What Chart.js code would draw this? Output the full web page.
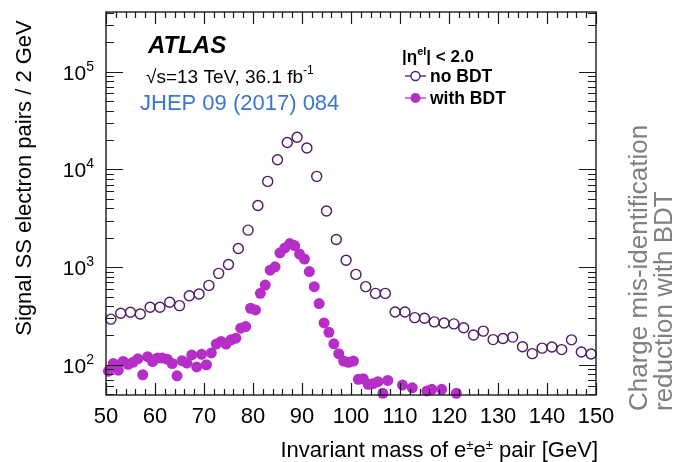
<!DOCTYPE html>
<html>
<head>
<meta charset="utf-8">
<script src="https://cdn.jsdelivr.net/npm/chart.js@4.4.0/dist/chart.umd.min.js"></script>
<style>
  html, body { margin: 0; padding: 0; background: #fff; }
</style>
</head>
<body>
<canvas id="massChart" width="677" height="462"></canvas>
<script>
// Signal SS electron pairs per bin
const binsNoBDT = [51, 53, 55, 57, 59, 61, 63, 65, 67, 69,
                   71, 73, 75, 77, 79, 81, 83, 85, 87, 89,
                   91, 93, 95, 97, 99, 101, 103, 105, 107, 109,
                   111, 113, 115, 117, 119, 121, 123, 125, 127, 129,
                   131, 133, 135, 137, 139, 141, 143, 145, 147, 149];
const noBDT = [293, 337, 345, 331, 388, 388, 436, 403, 509, 530,
               650, 863, 1065, 1550, 2390, 4270, 7550, 12560, 18900, 21400,
               16600, 8500, 3760, 1920, 1175, 842, 631, 538, 538, 347,
               347, 304, 299, 275, 268, 262, 239, 202, 221, 181,
               186, 192, 153, 130, 148, 152, 143, 180, 135, 129];

const binsBDT = [50.5, 51.5, 52.5, 53.5, 54.5, 55.5, 56.5, 57.5, 58.5, 59.5,
                 60.5, 61.5, 62.5, 63.5, 64.5, 65.5, 66.5, 67.5, 68.5, 69.5,
                 70.5, 71.5, 72.5, 73.5, 74.5, 75.5, 76.5, 77.5, 78.5, 79.5,
                 80.5, 81.5, 82.5, 83.5, 84.5, 85.5, 86.5, 87.5, 88.5, 89.5,
                 90.5, 91.5, 92.5, 93.5, 94.5, 95.5, 96.5, 97.5, 98.5, 99.5,
                 100.5, 101.5, 102.5, 103.5, 104.5, 105.5, 106.5, 107.5,
                 110.5, 112.5, 115.5, 116.5, 118.5, 121.5];
const withBDT = [86, 103, 88, 108, 101, 106, 115, 79, 121, 108,
                 117, 117, 114, 103, 77, 110, 104, 126, 95, 128,
                 100, 132, 163, 173, 163, 180, 187, 237, 246, 379,
                 364, 539, 655, 931, 1007, 1400, 1570, 1740, 1660, 1360,
                 1210, 900, 630, 423, 268, 215, 164, 130, 109, 106,
                 109, 71, 72, 63, 64, 67, 51, 69,
                 62, 58, 54, 56, 56, 51];

const xTickLabels = [50, 60, 70, 80, 90, 100, 110, 120, 130, 140, 150];
const yTickExps = [2, 3, 4, 5];

const FONT = '"Liberation Sans", Arial, Helvetica, sans-serif';
const openColor = '#4e1a63';
const fillColor = '#b52ec8';

function toPoints(xs, ys) {
    return xs.map((x, i) => ({ x: x, y: ys[i] }));
}

// draw a run of text pieces, some of them raised as superscripts
function drawRun(ctx, pieces, x, y, align) {
    let total = 0;
    pieces.forEach(p => { ctx.font = p.font; total += ctx.measureText(p.t).width; });
    let cx = align === 'right' ? x - total : align === 'center' ? x - total / 2 : x;
    pieces.forEach(p => {
        ctx.font = p.font;
        ctx.fillText(p.t, cx, y - (p.up || 0));
        cx += ctx.measureText(p.t).width;
    });
}

const framePlugin = {
    id: 'frame',
    afterDatasetsDraw(chart) {
        const { ctx, chartArea: a, scales: { x, y } } = chart;
        ctx.save();
        ctx.strokeStyle = '#1a1a1a';
        ctx.lineWidth = 1.4;
        ctx.strokeRect(a.left, a.top, a.right - a.left, a.bottom - a.top);

        ctx.beginPath();
        for (let v = 50; v <= 150; v += 2) {
            const px = Math.round(x.getPixelForValue(v)) + 0.5;
            const len = v % 10 === 0 ? 12 : 6;
            ctx.moveTo(px, a.bottom); ctx.lineTo(px, a.bottom - len);
            ctx.moveTo(px, a.top); ctx.lineTo(px, a.top + len);
        }
        for (let d = 1; d <= 5; d++) {
            for (let m = 1; m <= 9; m++) {
                const v = m * Math.pow(10, d);
                if (v < y.min || v > y.max) continue;
                const py = Math.round(y.getPixelForValue(v)) + 0.5;
                const len = m === 1 ? 17 : 8;
                ctx.moveTo(a.left, py); ctx.lineTo(a.left + len, py);
                ctx.moveTo(a.right, py); ctx.lineTo(a.right - len, py);
            }
        }
        ctx.lineWidth = 1.2;
        ctx.stroke();

        ctx.fillStyle = '#000';
        ctx.textBaseline = 'alphabetic';
        ctx.textAlign = 'left';

        // x tick labels
        xTickLabels.forEach(v => {
            drawRun(ctx, [{ t: String(v), font: '22px ' + FONT }], x.getPixelForValue(v), a.bottom + 28, 'center');
        });
        // y tick labels 10^n
        yTickExps.forEach(e => {
            const py = y.getPixelForValue(Math.pow(10, e));
            drawRun(ctx, [{ t: '10', font: '21px ' + FONT },
                          { t: String(e), font: '14px ' + FONT, up: 9 }], a.left - 12, py + 8, 'right');
        });

        // axis titles
        drawRun(ctx, [{ t: 'Invariant mass of e', font: '22px ' + FONT },
                      { t: '±', font: '13px ' + FONT, up: 8 },
                      { t: 'e', font: '22px ' + FONT },
                      { t: '±', font: '13px ' + FONT, up: 8 },
                      { t: ' pair [GeV]', font: '22px ' + FONT }], a.right + 2, 457, 'right');
        ctx.save();
        ctx.translate(31, 178);
        ctx.rotate(-Math.PI / 2);
        drawRun(ctx, [{ t: 'Signal SS electron pairs / 2 GeV', font: '22px ' + FONT }], 0, 0, 'center');
        ctx.restore();

        // ATLAS label block
        drawRun(ctx, [{ t: 'ATLAS', font: 'italic bold 24px ' + FONT }], 148, 53, 'left');
        drawRun(ctx, [{ t: '\u221As=13 TeV, 36.1 fb', font: '19px ' + FONT },
                      { t: '-1', font: '12px ' + FONT, up: 9 }], 146, 83, 'left');
        ctx.fillStyle = '#3a76d0';
        drawRun(ctx, [{ t: 'JHEP 09 (2017) 084', font: '22px ' + FONT }], 140, 110, 'left');

        // legend
        ctx.fillStyle = '#000';
        drawRun(ctx, [{ t: '|\u03B7', font: 'bold 17px ' + FONT },
                      { t: 'el', font: 'bold 11px ' + FONT, up: 7 },
                      { t: '| < 2.0', font: 'bold 17px ' + FONT }], 402, 62, 'left');
        const rows = [{ label: 'no BDT', y: 76, open: true }, { label: 'with BDT', y: 98, open: false }];
        rows.forEach(r => {
            ctx.beginPath();
            ctx.moveTo(405, r.y); ctx.lineTo(426, r.y);
            ctx.strokeStyle = r.open ? openColor : fillColor;
            ctx.lineWidth = 1.3;
            ctx.stroke();
            ctx.beginPath();
            ctx.arc(415.5, r.y, r.open ? 4.5 : 5, 0, Math.PI * 2);
            if (r.open) { ctx.fillStyle = '#fff'; ctx.fill(); ctx.stroke(); }
            else { ctx.fillStyle = fillColor; ctx.fill(); }
            ctx.fillStyle = '#000';
            drawRun(ctx, [{ t: r.label, font: 'bold 17.5px ' + FONT }], 430, r.y + 6, 'left');
        });

        // side note
        ctx.fillStyle = '#808080';
        ctx.save();
        ctx.translate(647, 411);
        ctx.rotate(-Math.PI / 2);
        drawRun(ctx, [{ t: 'Charge mis-identification', font: '26px ' + FONT }], 0, 0, 'left');
        drawRun(ctx, [{ t: 'reduction with BDT', font: '26px ' + FONT }], 0, 25, 'left');
        ctx.restore();
        ctx.restore();
    }
};

new Chart(document.getElementById('massChart'), {
    type: 'scatter',
    data: {
        datasets: [{
            label: 'with BDT',
            data: toPoints(binsBDT, withBDT),
            pointStyle: 'circle',
            pointRadius: 5.5,
            pointHoverRadius: 5.5,
            backgroundColor: fillColor,
            borderColor: fillColor,
            borderWidth: 0,
            clip: false
        }, {
            label: 'no BDT',
            data: toPoints(binsNoBDT, noBDT),
            pointStyle: 'circle',
            pointRadius: 5,
            pointHoverRadius: 5,
            backgroundColor: 'rgba(255,255,255,0)',
            borderColor: openColor,
            borderWidth: 1.4,
            clip: false
        }]
    },
    options: {
        responsive: false,
        animation: false,
        layout: { padding: { left: 106, right: 81, top: 12, bottom: 67 } },
        plugins: { legend: { display: false }, tooltip: { enabled: false } },
        scales: {
            x: { type: 'linear', display: false, min: 50, max: 150 },
            y: { type: 'logarithmic', display: false, min: 49, max: 410000 }
        }
    },
    plugins: [framePlugin]
});
</script>
</body>
</html>
